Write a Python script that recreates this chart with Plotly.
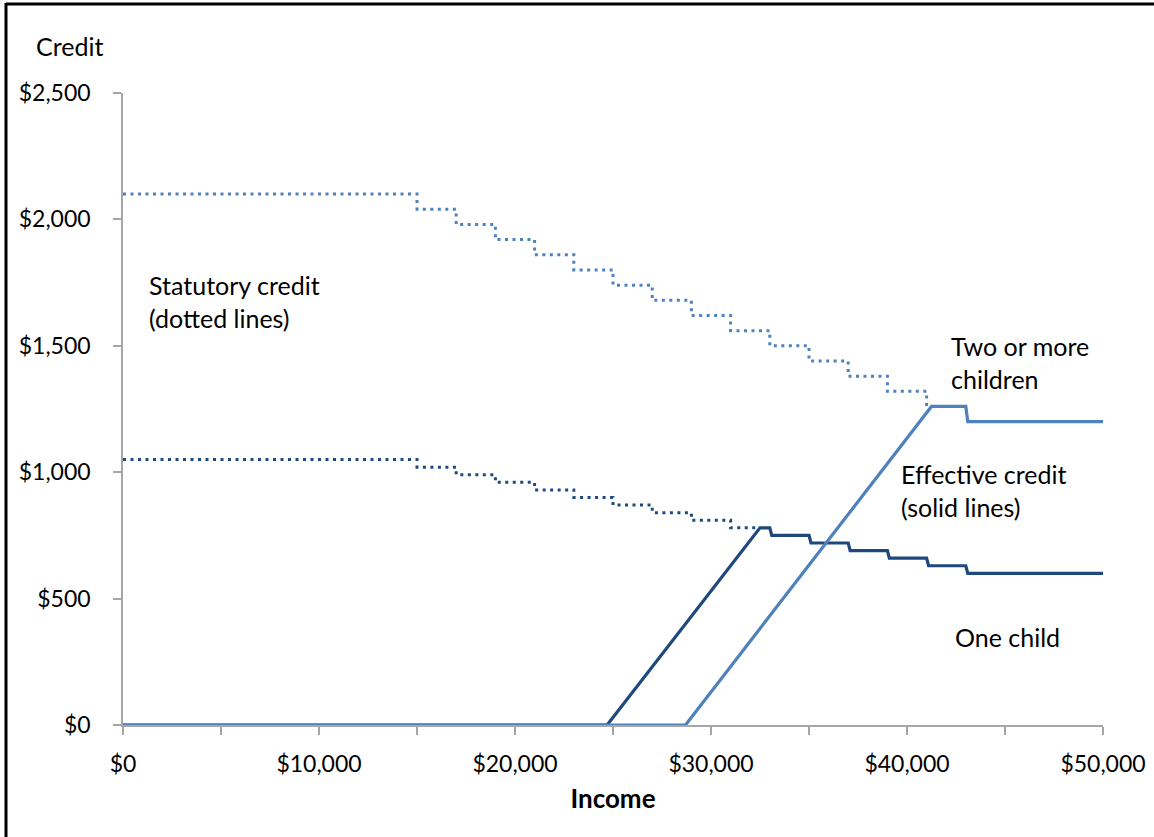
import plotly.graph_objects as go

# Statutory credit (step breakpoints)
stat_two_x = [0, 15000, 17000, 19000, 21000, 23000, 25000, 27000, 29000, 31000, 33000, 35000, 37000, 39000, 41000]
stat_two_y = [2100, 2040, 1980, 1920, 1860, 1800, 1740, 1680, 1620, 1560, 1500, 1440, 1380, 1320, 1260]
stat_one_x = [0, 15000, 17000, 19000, 21000, 23000, 25000, 27000, 29000, 31000, 32500]
stat_one_y = [1050, 1020, 990, 960, 930, 900, 870, 840, 810, 780, 780]

# Effective credit
eff_two_x = [0, 28700, 41250, 43000, 43100, 50000]
eff_two_y = [0, 0, 1260, 1260, 1200, 1200]
eff_one_x = [0, 24700, 32500, 33000, 33100, 35000, 35100, 37000, 37100, 39000, 39100, 41000, 41100, 43000, 43100, 50000]
eff_one_y = [0, 0, 780, 780, 750, 750, 720, 720, 690, 690, 660, 660, 630, 630, 600, 600]

x_ticks = [0, 5000, 10000, 15000, 20000, 25000, 30000, 35000, 40000, 45000, 50000]
x_labels = ["$0", "", "$10,000", "", "$20,000", "", "$30,000", "", "$40,000", "", "$50,000"]
y_ticks = [0, 500, 1000, 1500, 2000, 2500]
y_labels = ["$0", "$500", "$1,000", "$1,500", "$2,000", "$2,500"]

LIGHT = "#4F81BD"
DARK = "#1F497D"
FONT = "Lato"
FS = 25
TFS = 23

fig = go.Figure()
fig.add_trace(go.Scatter(x=stat_one_x, y=stat_one_y, mode="lines", line_shape="hv",
                         line=dict(color=DARK, width=3, dash="3px,4.5px"), hoverinfo="skip"))
fig.add_trace(go.Scatter(x=stat_two_x, y=stat_two_y, mode="lines", line_shape="hv",
                         line=dict(color=LIGHT, width=3, dash="3px,4.5px"), hoverinfo="skip"))
fig.add_trace(go.Scatter(x=eff_one_x, y=eff_one_y, mode="lines",
                         line=dict(color=DARK, width=3.2), hoverinfo="skip"))
fig.add_trace(go.Scatter(x=eff_two_x, y=eff_two_y, mode="lines",
                         line=dict(color=LIGHT, width=3.2), hoverinfo="skip"))

W, H = 1154, 837
L, R, T, B = 123, 51, 93, 112
pw, ph = W - L - R, H - T - B

def px(xp):
    return (xp - L) / pw

def py(yp):
    return 1 - (yp - T) / ph

axis_col = "#A6A6A6"
fig.update_layout(
    width=W, height=H,
    margin=dict(l=L, r=R, t=T, b=B, autoexpand=False),
    paper_bgcolor="white", plot_bgcolor="white",
    showlegend=False,
    font=dict(family=FONT, size=TFS, color="black"),
    xaxis=dict(range=[0, 50000], tickvals=x_ticks, ticktext=x_labels, automargin=False,
               showgrid=False, zeroline=False, showline=True, linecolor=axis_col, linewidth=1.5,
               ticks="outside", ticklen=8, tickcolor=axis_col, tickwidth=1.5,
               ticklabelstandoff=10, tickfont=dict(size=TFS),
               title=dict(text="<b>Income</b>", font=dict(size=26, family=FONT), standoff=13)),
    yaxis=dict(range=[0, 2500], tickvals=y_ticks, ticktext=y_labels, automargin=False,
               showgrid=False, zeroline=False, showline=True, linecolor=axis_col, linewidth=1.5,
               ticks="outside", ticklen=8, tickcolor=axis_col, tickwidth=1.5,
               ticklabelstandoff=18, tickfont=dict(size=TFS)),
)

def note(text, xp, yp, anchor="left"):
    fig.add_annotation(x=px(xp), y=py(yp), xref="paper", yref="paper", text=text, showarrow=False,
                       xanchor=anchor, yanchor="middle", align="left",
                       font=dict(family=FONT, size=FS, color="black"))

note("Credit", 34, 46)
note("Statutory credit<br>(dotted lines)", 147, 301)
note("Two or more<br>children", 949, 362)
note("Effective credit<br>(solid lines)", 899, 490)
note("One child", 953, 637)

# Frame lines (top and left)
fig.add_shape(type="line", xref="paper", yref="paper", x0=px(6), x1=px(W + 5), y0=py(4), y1=py(4),
              line=dict(color="black", width=3))
fig.add_shape(type="line", xref="paper", yref="paper", x0=px(6), x1=px(6), y0=py(3), y1=py(H + 5),
              line=dict(color="black", width=3))

fig.write_html("out.html")
